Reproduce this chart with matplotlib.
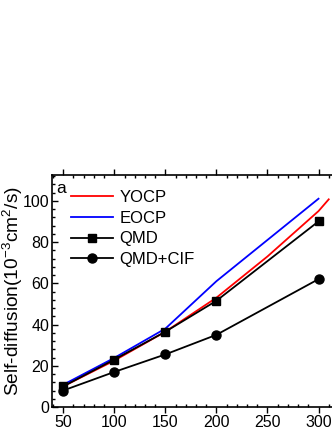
import numpy as np
import matplotlib
matplotlib.use("Agg")
import matplotlib.pyplot as plt
from matplotlib.ticker import AutoMinorLocator, MultipleLocator

plt.rcParams["font.family"] = ["Liberation Sans", "DejaVu Sans"]
plt.rcParams["mathtext.default"] = "regular"

# data
temps = [50, 100, 150, 200, 300]
qmd = [10, 23, 36.5, 51.5, 90]
qmd_cif = [8, 17, 25.5, 35, 62]

yocp_t = [50, 100, 150, 200, 250, 300, 310]
yocp = [10, 22.5, 36.5, 53, 73, 95, 100.7]

eocp_t = [50, 100, 150, 200, 300]
eocp = [10.8, 23.8, 38, 61, 101]

fig = plt.figure(figsize=(3.32, 4.30), dpi=100)
ax = fig.add_axes([52 / 332, 23 / 430, 290 / 332, 232 / 430])

ax.plot(yocp_t, yocp, color="#ff0000", linewidth=1.3, label="YOCP")
ax.plot(eocp_t, eocp, color="#0000ff", linewidth=1.3, label="EOCP")
ax.plot(temps, qmd, color="black", linewidth=1.3, marker="s", markersize=6,
        label="QMD")
ax.plot(temps, qmd_cif, color="black", linewidth=1.3, marker="o",
        markersize=6.5, label="QMD+CIF")

ax.set_xlim(39, 323)
ax.set_ylim(0, 112.5)
ax.xaxis.set_major_locator(MultipleLocator(50))
ax.yaxis.set_major_locator(MultipleLocator(20))
ax.xaxis.set_minor_locator(AutoMinorLocator(5))
ax.yaxis.set_minor_locator(AutoMinorLocator(5))

ax.tick_params(axis="both", which="major", direction="out", length=4,
               width=1, labelsize=11.5, pad=2)
ax.tick_params(axis="both", which="minor", direction="out", length=2, width=1)
ax.tick_params(top=True, which="both", direction="in")
ax.tick_params(axis="x", which="major", bottom=True, direction="out")
for s in ax.spines.values():
    s.set_linewidth(1.2)

ax.set_ylabel("Self-diffusion(10$^{-3}$cm$^{2}$/s)", fontsize=13.8)
ax.yaxis.set_label_coords(-0.094, 0.5)

ax.text(0.014, 0.975, "a", transform=ax.transAxes, fontsize=12.5,
        ha="left", va="top")

ax.legend(loc="upper left", bbox_to_anchor=(71 / 332, 1 - 190 / 430),
          bbox_transform=fig.transFigure, frameon=False, fontsize=12,
          handlelength=2.5, handletextpad=0.4, labelspacing=0.34,
          borderaxespad=0, borderpad=0)

plt.savefig("out.png", dpi=100)
plt.close()
